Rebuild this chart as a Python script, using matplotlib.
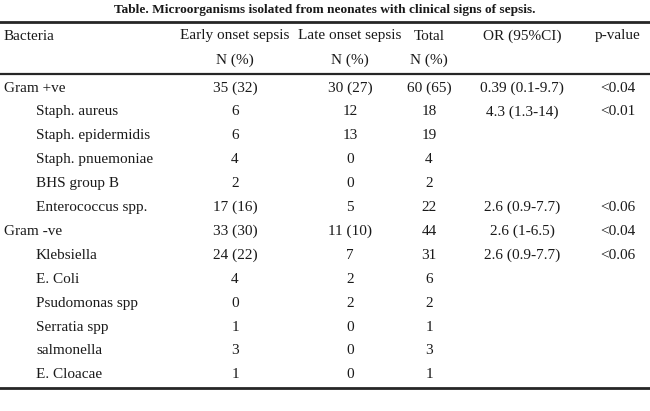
import matplotlib.pyplot as plt
from matplotlib.lines import Line2D

TITLE = "Table. Microorganisms isolated from neonates with clinical signs of sepsis."
HEADERS = ["Bacteria", "Early onset sepsis", "Late onset sepsis", "Total", "OR (95%CI)", "p-value"]
SUBHEADERS = ["", "N (%)", "N (%)", "N (%)", "", ""]

bacteria = ["Gram +ve", "Staph. aureus", "Staph. epidermidis", "Staph. pnuemoniae",
            "BHS group B", "Enterococcus spp.", "Gram -ve", "Klebsiella", "E. Coli",
            "Psudomonas spp", "Serratia spp", "salmonella", "E. Cloacae"]
early = ["35 (32)", "6", "6", "4", "2", "17 (16)", "33 (30)", "24 (22)", "4", "0", "1", "3", "1"]
late = ["30 (27)", "12", "13", "0", "0", "5", "11 (10)", "7", "2", "2", "0", "0", "0"]
total = ["60 (65)", "18", "19", "4", "2", "22", "44", "31", "6", "2", "1", "3", "1"]
or_ci = ["0.39 (0.1-9.7)", "4.3 (1.3-14)", "", "", "", "2.6 (0.9-7.7)", "2.6 (1-6.5)",
         "2.6 (0.9-7.7)", "", "", "", "", ""]
p_value = ["<0.04", "<0.01", "", "", "", "<0.06", "<0.04", "<0.06", "", "", "", "", ""]
groups = {"Gram +ve", "Gram -ve"}

W, H = 650, 411
fig = plt.figure(figsize=(6.5, 4.11), dpi=100)
ax = fig.add_axes([0, 0, 1, 1])
ax.set_xlim(0, W)
ax.set_ylim(H, 0)
ax.axis("off")

font = ["Liberation Serif", "DejaVu Serif"]
col = "#1a1a1a"
fs = 11

ax.text(325, 10, TITLE, ha="center", va="center", fontsize=9.6, fontweight="bold",
        family=font, color=col)

for y, lw in [(22, 2.0), (74, 1.6), (388, 2.0)]:
    ax.add_line(Line2D([0, W], [y, y], color="#262626", lw=lw))

col_x = [4, 235, 350, 429, 522, 618]
ax.text(col_x[0], 36, HEADERS[0], ha="left", va="center", fontsize=fs, family=font, color=col)
for x, h in zip(col_x[1:], HEADERS[1:]):
    ax.text(x, 36, h, ha="center", va="center", fontsize=fs, family=font, color=col)
for x, h in zip(col_x[1:], SUBHEADERS[1:]):
    if h:
        ax.text(x, 60, h, ha="center", va="center", fontsize=fs, family=font, color=col)

y0, dy = 88, 23.9
for i, name in enumerate(bacteria):
    y = y0 + i * dy
    x_name = 4 if name in groups else 36
    ax.text(x_name, y, name, ha="left", va="center", fontsize=fs, family=font, color=col)
    for x, vals in zip(col_x[1:], [early, late, total, or_ci, p_value]):
        if vals[i]:
            ax.text(x, y, vals[i], ha="center", va="center", fontsize=fs, family=font, color=col)

fig.savefig("out.png", dpi=100)
